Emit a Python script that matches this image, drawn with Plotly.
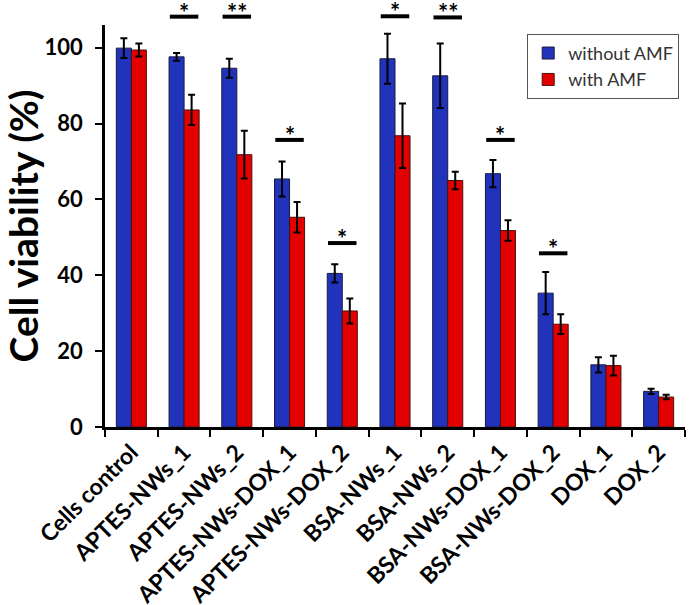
import plotly.graph_objects as go

categories = ["Cells control", "APTES-NWs_1", "APTES-NWs_2", "APTES-NWs-DOX_1",
              "APTES-NWs-DOX_2", "BSA-NWs_1", "BSA-NWs_2", "BSA-NWs-DOX_1",
              "BSA-NWs-DOX_2", "DOX_1", "DOX_2"]
without_amf = [99.9, 97.6, 94.6, 65.4, 40.5, 97.1, 92.6, 66.8, 35.3, 16.4, 9.4]
without_err = [2.6, 1.0, 2.5, 4.6, 2.4, 6.6, 8.5, 3.6, 5.6, 2.0, 0.7]
with_amf = [99.4, 83.6, 71.8, 55.3, 30.6, 76.8, 65.0, 51.8, 27.1, 16.2, 7.9]
with_err = [1.7, 4.0, 6.3, 4.0, 3.3, 8.5, 2.3, 2.7, 2.6, 2.6, 0.6]

# significance markers: (category index, label, line height in % units)
sig_idx = [1, 2, 3, 4, 5, 6, 7, 8]
sig_text = ["*", "**", "*", "*", "*", "**", "*", "*"]
sig_level = [108.2, 108.2, 75.7, 48.5, 108.3, 108.0, 75.7, 45.8]

y_max = 106
font_family = "Lato, 'Open Sans', sans-serif"

fig = go.Figure()
fig.add_trace(go.Bar(
    x=categories, y=without_amf, name="without AMF",
    marker=dict(color="#2233BB", line=dict(color="#1a1a40", width=1)),
    error_y=dict(type="data", array=without_err, color="black", thickness=2, width=3.5),
))
fig.add_trace(go.Bar(
    x=categories, y=with_amf, name="with AMF",
    marker=dict(color="#E30000", line=dict(color="#4a1010", width=1)),
    error_y=dict(type="data", array=with_err, color="black", thickness=2, width=3.5),
))

n = len(categories)
shapes = []
annotations = []
for idx, txt, lvl in zip(sig_idx, sig_text, sig_level):
    x0 = (idx + 0.23) / n
    x1 = (idx + 0.77) / n
    yp = lvl / y_max
    shapes.append(dict(type="line", xref="paper", yref="paper", x0=x0, x1=x1,
                       y0=yp, y1=yp, line=dict(color="black", width=4)))
    annotations.append(dict(x=(x0 + x1) / 2, y=yp, xref="paper", yref="paper",
                            text="<b>" + txt + "</b>", showarrow=False,
                            xanchor="center", yanchor="bottom", yshift=-12,
                            font=dict(size=24, color="black", family=font_family)))

fig.update_layout(
    width=697, height=605,
    margin=dict(l=105, r=12, t=25, b=178),
    paper_bgcolor="white", plot_bgcolor="white",
    barmode="group", bargap=0.43, bargroupgap=0,
    font=dict(family=font_family, color="black"),
    shapes=shapes, annotations=annotations,
    legend=dict(x=0.99, y=0.978, xanchor="right", yanchor="top",
                bgcolor="white", bordercolor="#555555", borderwidth=1,
                font=dict(size=18, color="#333333", family=font_family)),
    showlegend=True,
)
fig.update_xaxes(
    type="category", tickangle=-45, tickson="boundaries",
    ticks="outside", ticklen=7, tickwidth=2, tickcolor="black",
    showline=True, linecolor="black", linewidth=2.5,
    tickfont=dict(size=23, family=font_family, color="black", weight="bold"),
    showgrid=False, automargin=False,
)
fig.update_yaxes(
    range=[0, y_max], tickvals=[0, 20, 40, 60, 80, 100],
    ticks="outside", ticklen=7, tickwidth=2, tickcolor="black",
    showline=True, linecolor="black", linewidth=2.5, ticklabelstandoff=8,
    tickfont=dict(size=22, family=font_family, color="black", weight="bold"),
    showgrid=False, zeroline=False, automargin=False,
    title=dict(text="<b>Cell viability (%)</b>", font=dict(size=39, family=font_family), standoff=7),
)

fig.write_html("out.html", config={"displayModeBar": False},
               post_script="document.body.style.margin='0';")
